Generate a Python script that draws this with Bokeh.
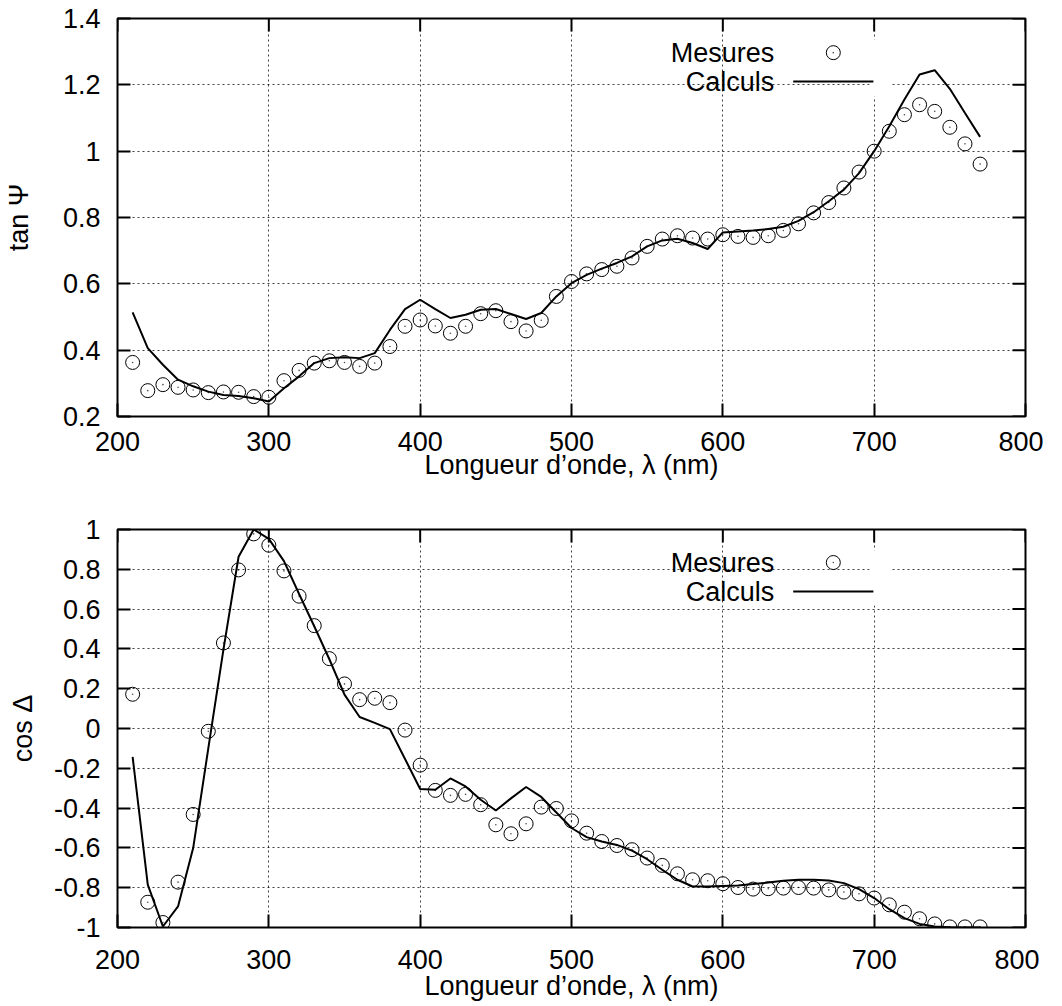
from bokeh.plotting import figure
from bokeh.models import Range1d, FixedTicker, Label, BoxAnnotation, CustomJSTickFormatter
from bokeh.layouts import column
from bokeh.embed import file_html
from bokeh.resources import INLINE

# ---------------- data ----------------
wavelength = [210, 220, 230, 240, 250, 260, 270, 280, 290, 300,
              310, 320, 330, 340, 350, 360, 370, 380, 390, 400,
              410, 420, 430, 440, 450, 460, 470, 480, 490, 500,
              510, 520, 530, 540, 550, 560, 570, 580, 590, 600,
              610, 620, 630, 640, 650, 660, 670, 680, 690, 700,
              710, 720, 730, 740, 750, 760, 770]

tan_psi_mes = [0.363, 0.278, 0.296, 0.288, 0.280, 0.272, 0.274, 0.273, 0.260, 0.258,
               0.308, 0.339, 0.361, 0.368, 0.363, 0.351, 0.361, 0.411, 0.472, 0.491,
               0.473, 0.451, 0.472, 0.510, 0.519, 0.486, 0.458, 0.490, 0.562, 0.607,
               0.630, 0.643, 0.653, 0.678, 0.713, 0.735, 0.745, 0.738, 0.735, 0.748,
               0.743, 0.740, 0.745, 0.761, 0.781, 0.814, 0.845, 0.889, 0.937, 1.000,
               1.060, 1.110, 1.140, 1.120, 1.072, 1.022, 0.961]

tan_psi_calc = [0.514, 0.406, 0.356, 0.311, 0.291, 0.275, 0.265, 0.262, 0.255, 0.245,
                0.285, 0.321, 0.361, 0.376, 0.379, 0.376, 0.391, 0.461, 0.524, 0.552,
                0.524, 0.497, 0.507, 0.522, 0.524, 0.509, 0.494, 0.512, 0.562, 0.602,
                0.627, 0.646, 0.663, 0.683, 0.713, 0.731, 0.736, 0.723, 0.705, 0.755,
                0.758, 0.761, 0.765, 0.772, 0.790, 0.816, 0.849, 0.884, 0.934, 1.000,
                1.075, 1.156, 1.231, 1.244, 1.188, 1.115, 1.043]

cos_delta_mes = [0.172, -0.873, -0.975, -0.772, -0.432, -0.014, 0.430, 0.797, 0.978, 0.921,
                 0.792, 0.665, 0.517, 0.351, 0.224, 0.145, 0.152, 0.130, -0.008, -0.184,
                 -0.311, -0.336, -0.331, -0.383, -0.484, -0.529, -0.479, -0.395, -0.402, -0.464,
                 -0.526, -0.568, -0.588, -0.609, -0.651, -0.688, -0.730, -0.760, -0.765, -0.780,
                 -0.799, -0.807, -0.805, -0.802, -0.799, -0.802, -0.811, -0.822, -0.831, -0.852,
                 -0.886, -0.923, -0.956, -0.982, -0.997, -0.997, -0.997]

cos_delta_calc = [-0.143, -0.785, -0.995, -0.894, -0.601, -0.100, 0.396, 0.863, 1.000, 0.953,
                  0.841, 0.676, 0.514, 0.348, 0.170, 0.058, 0.028, -0.003, -0.153, -0.304,
                  -0.308, -0.251, -0.291, -0.358, -0.412, -0.351, -0.294, -0.344, -0.422, -0.500,
                  -0.546, -0.568, -0.585, -0.614, -0.657, -0.710, -0.760, -0.794, -0.794, -0.791,
                  -0.789, -0.782, -0.774, -0.765, -0.760, -0.760, -0.764, -0.777, -0.807, -0.852,
                  -0.908, -0.953, -0.982, -0.995, -0.999, -1.000, -1.000]

x_ticks = [200, 300, 400, 500, 600, 700, 800]
tan_ticks = [0.2, 0.4, 0.6, 0.8, 1.0, 1.2, 1.4]
cos_ticks = [-1.0, -0.8, -0.6, -0.4, -0.2, 0.0, 0.2, 0.4, 0.6, 0.8, 1.0]

x_title = "Longueur d\u2019onde, \u03bb (nm)"
legend_labels = ["Mesures", "Calculs"]

FONT = "Liberation Sans"
FS = "27px"
FRAME_W, FRAME_H, TICK_PX = 908, 398, 13

fmt_code = "var s = tick.toFixed(1); if (s.endsWith('.0')) { s = s.slice(0, -2); } if (s == '-0') { s = '0'; } return s;"


def style_axis(ax):
    ax.axis_line_color = None
    ax.major_tick_in = TICK_PX
    ax.major_tick_out = 0
    ax.major_tick_line_width = 2
    ax.major_tick_line_color = "black"
    ax.minor_tick_line_color = None
    ax.major_label_text_font = FONT
    ax.major_label_text_font_size = FS
    ax.major_label_text_color = "black"
    ax.axis_label_text_font = FONT
    ax.axis_label_text_font_size = FS
    ax.axis_label_text_font_style = "normal"
    ax.axis_label_text_color = "black"


def make_fig(yr, yticks, ylabel, top, bottom, x_standoff, x_lab_standoff, y_lab_standoff,
             xs, mes, calc, leg_y, mask_y):
    p = figure(frame_width=FRAME_W, frame_height=FRAME_H,
               x_range=Range1d(200, 800), y_range=Range1d(*yr),
               output_backend="svg", toolbar_location=None,
               min_border_left=112, min_border_right=18,
               min_border_top=top, min_border_bottom=bottom,
               background_fill_color="white", border_fill_color="white")
    p.outline_line_color = "black"
    p.outline_line_width = 2
    p.outline_line_alpha = 1.0

    p.xaxis.ticker = FixedTicker(ticks=x_ticks)
    p.yaxis.ticker = FixedTicker(ticks=yticks)
    p.yaxis.formatter = CustomJSTickFormatter(code=fmt_code)
    style_axis(p.xaxis[0])
    style_axis(p.yaxis[0])
    p.xaxis.major_label_standoff = x_standoff
    p.yaxis.major_label_standoff = 17
    p.xaxis.axis_label = x_title
    p.xaxis.axis_label_standoff = x_lab_standoff
    p.yaxis.axis_label = ylabel
    p.yaxis.axis_label_standoff = y_lab_standoff

    p.grid.grid_line_color = "black"
    p.grid.grid_line_alpha = 0.75
    p.grid.grid_line_dash = "2 3"
    p.grid.grid_line_width = 1

    # mirrored inward ticks on top and right borders (from the tick lists)
    dy = (yr[1] - yr[0]) * TICK_PX / FRAME_H
    dx = 600 * TICK_PX / FRAME_W
    p.segment(x0=x_ticks, x1=x_ticks, y0=[yr[1]] * len(x_ticks), y1=[yr[1] - dy] * len(x_ticks),
              line_color="black", line_width=2)
    p.segment(x0=[800] * len(yticks), x1=[800 - dx] * len(yticks), y0=yticks, y1=yticks,
              line_color="black", line_width=2)

    p.line(xs, calc, line_color="black", line_width=2)
    p.scatter(xs, mes, marker="circle", size=14, fill_color=None,
              line_color="black", line_width=1)
    p.scatter(xs, mes, marker="circle", size=1.6, fill_color="black", fill_alpha=0.7,
              line_color=None)

    # key
    mask = BoxAnnotation(left=697, right=711, top=mask_y[0], bottom=mask_y[1],
                         fill_color="white", fill_alpha=1.0, line_color=None, level="underlay")
    p.add_layout(mask)
    for lab, ly in zip(legend_labels, leg_y):
        p.add_layout(Label(x=634, y=ly, text=lab, text_align="right", text_baseline="middle",
                           text_font=FONT, text_font_size=FS, text_color="black"))
    p.scatter([673], [leg_y[0]], marker="circle", size=14, fill_color=None,
              line_color="black", line_width=1)
    p.scatter([673], [leg_y[0]], marker="circle", size=1.6, fill_color="black", fill_alpha=0.7,
              line_color=None)
    p.line([646.5, 699.5], [leg_y[1], leg_y[1]], line_color="black", line_width=2)
    return p


p1 = make_fig((0.2, 1.4), tan_ticks, "tan \u03a8", 18, 90, 15, -4, 26, wavelength,
              tan_psi_mes, tan_psi_calc, [1.297, 1.210], (1.337, 1.165))
p2 = make_fig((-1.0, 1.0), cos_ticks, "cos \u0394", 23, 68, 22, -1, 13, wavelength,
              cos_delta_mes, cos_delta_calc, [0.834, 0.688], (0.894, 0.618))

layout = column(p1, p2, spacing=0)
open("out.html", "w").write(file_html(layout, INLINE))
